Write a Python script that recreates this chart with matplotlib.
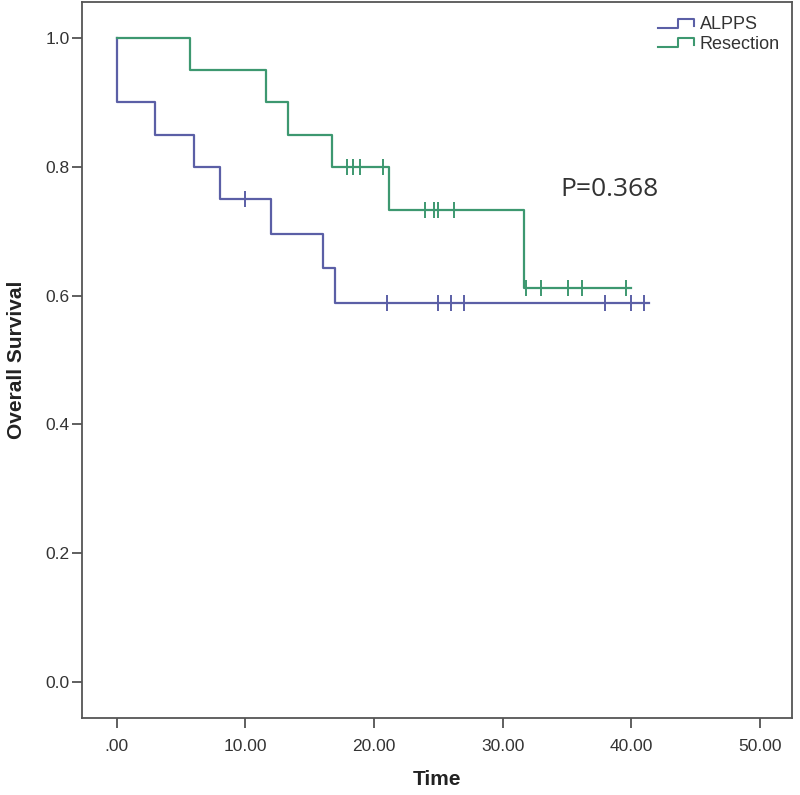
import numpy as np
import matplotlib
matplotlib.use("Agg")
import matplotlib.pyplot as plt
from matplotlib.lines import Line2D
from matplotlib.legend_handler import HandlerBase

plt.rcParams['font.family'] = ['Liberation Sans', 'DejaVu Sans']

# Kaplan-Meier curves
alpps_t = [0, 0, 3, 6, 8, 12, 16, 17]
alpps_s = [1.0, 0.9, 0.85, 0.8, 0.75, 0.696, 0.643, 0.589]
alpps_end = 41.4
alpps_cens = [10, 21, 25, 26, 27, 38, 40, 41]

resec_t = [0, 5.7, 11.6, 13.3, 16.7, 21.2, 31.7]
resec_s = [1.0, 0.95, 0.9, 0.85, 0.8, 0.733, 0.611]
resec_end = 40.0
resec_cens = [17.9, 18.4, 18.9, 20.7, 24.0, 24.7, 25.0, 26.2, 31.8, 33.0, 35.1, 36.2, 39.6]

xticks = [0, 10, 20, 30, 40, 50]
xticklabels = ['.00', '10.00', '20.00', '30.00', '40.00', '50.00']
yticks = [0.0, 0.2, 0.4, 0.6, 0.8, 1.0]

c_alpps = '#5b5fa6'
c_resec = '#3d9870'


def surv_at(t, times, surv):
    idx = np.searchsorted(times, t, side='right') - 1
    return surv[idx]


class StepHandler(HandlerBase):
    def create_artists(self, legend, orig_handle, xdescent, ydescent,
                       width, height, fontsize, trans):
        xs = np.array([0, 0.5, 0.5, 0.9, 0.9]) * width - xdescent
        ys = np.array([0.15, 0.15, 0.85, 0.85, 0.3]) * height - ydescent
        ln = Line2D(xs, ys, color=orig_handle.get_color(), lw=1.5, transform=trans)
        return [ln]


fig = plt.figure(figsize=(8, 7.95), dpi=100)
ax = fig.add_axes([0.1025, 0.097, 0.8875, 0.9005])

handles = []
for t, s, end, cens, col, name in [
        (alpps_t, alpps_s, alpps_end, alpps_cens, c_alpps, 'ALPPS'),
        (resec_t, resec_s, resec_end, resec_cens, c_resec, 'Resection')]:
    tt = list(t) + [end]
    ss = list(s) + [s[-1]]
    ln, = ax.step(tt, ss, where='post', color=col, lw=1.6, label=name)
    cy = [surv_at(c, t, s) for c in cens]
    ax.plot(cens, cy, ls='none', marker='|', ms=11, mew=1.4, color=col)
    handles.append(ln)

ax.text(38.3, 0.764, 'P=0.368', fontsize=19, color='#333333',
        ha='center', va='center', family=['Open Sans', 'DejaVu Sans'])

ax.set_xlim(-2.7, 52.5)
ax.set_ylim(-0.056, 1.056)
ax.set_xticks(xticks)
ax.set_xticklabels(xticklabels)
ax.set_yticks(yticks)
ax.set_yticklabels(['%.1f' % v for v in yticks])
ax.tick_params(axis='both', direction='out', length=7, width=1.2,
               colors='#444444', labelsize=12.5, labelcolor='#333333')
ax.tick_params(axis='x', pad=8)
ax.tick_params(axis='y', pad=2)
for sp in ax.spines.values():
    sp.set_color('#555555')
    sp.set_linewidth(1.3)

ax.set_xlabel('Time', fontsize=15, fontweight='bold', color='#222222', labelpad=12)
ax.set_ylabel('Overall Survival', fontsize=15, fontweight='bold', color='#222222', labelpad=14)

ax.legend(handles, ['ALPPS', 'Resection'], handler_map={Line2D: StepHandler()},
          loc='upper right', bbox_to_anchor=(0.998, 0.995), frameon=False,
          fontsize=13, handlelength=2.2, handletextpad=0.1, labelspacing=0.15,
          borderaxespad=0.2, labelcolor='#333333')

fig.savefig('out.png', dpi=100)
